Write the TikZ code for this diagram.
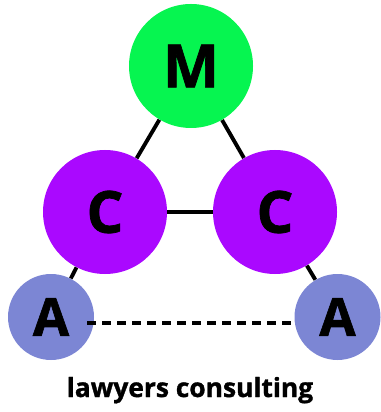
\documentclass[tikz,border=0pt]{standalone}
\usepackage{fontspec}
\setmainfont{Open Sans}
\newfontfamily\heavyfont{Open Sans}[UprightFeatures={FakeBold=2}, BoldFeatures={FakeBold=1.2}]
\usepackage{tikz}
\usepackage{xcolor}
\definecolor{mgreen}{RGB}{6,245,80}
\definecolor{cpurple}{RGB}{170,8,255}
\definecolor{ablue}{RGB}{124,134,212}

\begin{document}
\begin{tikzpicture}
\tikzstyle{every node}+=[inner sep=0pt]
\tikzstyle{ball}=[circle, draw=none]
\tikzstyle{link}=[black, line width=2.2pt]
\useasboundingbox (0,0) rectangle (7.6,-8.24);
\node [ball, fill=mgreen, minimum size=2.48cm, font=\fontsize{34}{34}\heavyfont\bfseries] (M) at (3.82,-1.32) {M};
\node [ball, fill=cpurple, minimum size=2.48cm, font=\fontsize{33}{33}\heavyfont\bfseries] (CL) at (2.10,-4.24) {C};
\node [ball, fill=cpurple, minimum size=2.48cm, font=\fontsize{33}{33}\heavyfont\bfseries] (CR) at (5.50,-4.24) {C};
\node [ball, fill=ablue, minimum size=1.72cm, font=\fontsize{30}{30}\heavyfont\bfseries] (AL) at (1.02,-6.34) {A};
\node [ball, fill=ablue, minimum size=1.72cm, font=\fontsize{30}{30}\heavyfont\bfseries] (AR) at (6.75,-6.34) {A};
\draw [link] (M) -- (CL);
\draw [link] (M) -- (CR);
\draw [link] (CL) -- (CR);
\draw [link] (CL) -- (AL);
\draw [link] (CR) -- (AR);
\draw [link, dash pattern=on 0.18cm off 0.12cm] ([xshift=-0.14cm,yshift=-0.12cm]AL.east) -- ([yshift=-0.12cm]AR.west);
\node [anchor=base, font=\fontsize{15}{15}\heavyfont\bfseries] (title) at (3.80,-7.94) {lawyers consulting};
\end{tikzpicture}
\end{document}
